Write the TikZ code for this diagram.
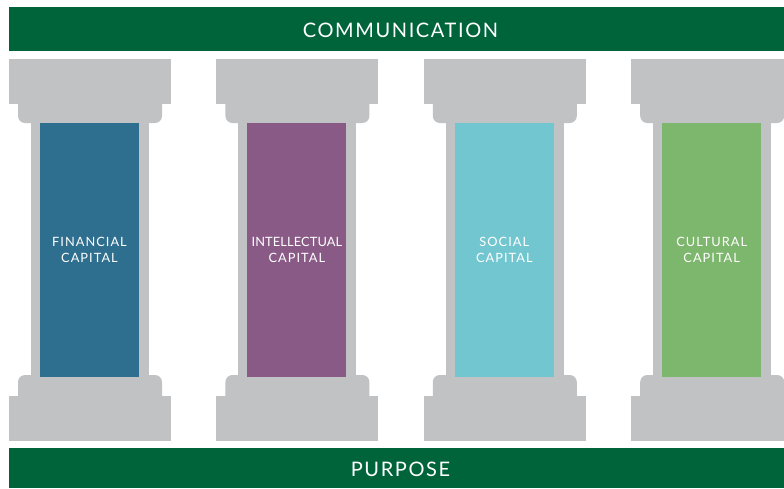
\documentclass[tikz,border=0pt]{standalone}
\usepackage{fontspec}
\setmainfont{Lato}[LetterSpace=8]
\newfontfamily\tightfont{Lato}[LetterSpace=1]
\usetikzlibrary{positioning}

\definecolor{bargreen}{HTML}{00643A}
\definecolor{stone}{HTML}{C1C2C4}
\definecolor{finblue}{HTML}{2E6E8E}
\definecolor{intpurple}{HTML}{8A5A87}
\definecolor{soccyan}{HTML}{72C6D0}
\definecolor{culgreen}{HTML}{7DB76D}

\tikzset{
	bar/.style={fill=bargreen, draw=none},
	bartext/.style={text=white, font=\fontsize{20}{22}\selectfont},
	stonefill/.style={fill=stone, draw=none},
	pillartext/.style={text=white, align=center, font=\fontsize{12.8}{16}\selectfont}
}

\begin{document}
\begin{tikzpicture}[x=1pt, y=-1pt]
	\useasboundingbox (0,0) rectangle (784,488);
	% bars
	\fill[bar] (9,7) rectangle (784,51);
	\fill[bar] (9,448) rectangle (784,488);
	\node[bartext] (comm) at (400.5,30) {COMMUNICATION};
	\node[bartext] (purp) at (400.5,469) {PURPOSE};
	% pillars
	\foreach \i/\col/\lbl in {0/finblue/{FINANCIAL\\CAPITAL}, 1/intpurple/{{\tightfont INTELLECTUAL}\\CAPITAL}, 2/soccyan/{SOCIAL\\CAPITAL}, 3/culgreen/{CULTURAL\\CAPITAL}}{
		\begin{scope}[xshift=207.4*\i]
			\fill[stonefill] (9,59) rectangle (171,104);
			\fill[stonefill] (18,100) [rounded corners=7] -- (18,123) -- (162,123) [sharp corners] -- (162,100) -- cycle;
			\fill[stonefill] (31,118) rectangle (149,380);
			\fill[stonefill] (18,400) [rounded corners=7] -- (18,375) -- (162,375) [sharp corners] -- (162,400) -- cycle;
			\fill[stonefill] (9,396) rectangle (171,441);
			\fill[\col] (40,123) rectangle (139,377);
			\node[pillartext] (p\i) at (89.5,249.5) {\lbl};
		\end{scope}
	}
\end{tikzpicture}
\end{document}
